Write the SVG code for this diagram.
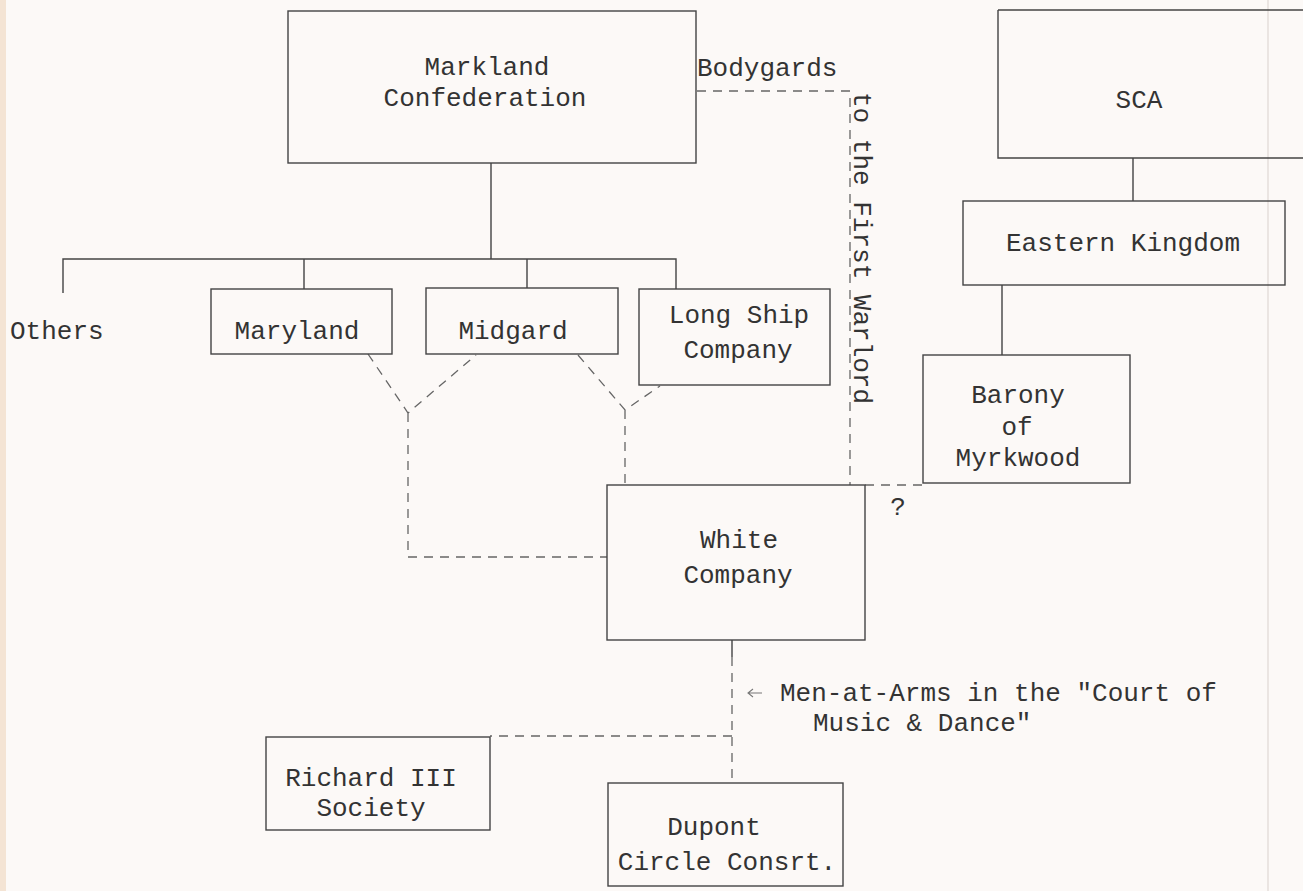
<svg xmlns="http://www.w3.org/2000/svg" width="1303" height="891" viewBox="0 0 1303 891">
<style>
.t{font-family:"Liberation Mono","Courier New",monospace;font-size:26px;fill:#333}
.c{text-anchor:middle}
.box{fill:none;stroke:#444;stroke-width:1.4}
.ln{fill:none;stroke:#444;stroke-width:1.4}
.ds{fill:none;stroke:#666;stroke-width:1.3;stroke-dasharray:9 7}
</style>
<rect width="1303" height="891" fill="#fcf9f7"/>
<rect width="6" height="891" fill="#f4e4d4"/>
<line x1="1268" y1="0" x2="1268" y2="891" stroke="#d9d1cd" stroke-width="1"/>

<g id="connectors">
  <path class="ln" d="M491,163 V259 M63,293 V259 H676 V289 M304,259 V289 M527,259 V288"/>
  <path class="ln" d="M1133,158 V201 M1002,285 V355 M732,640 V657"/>
  <path class="ds" d="M697,91 H850 V485"/>
  <path class="ds" d="M865,485 H923"/>
  <path class="ds" d="M368,354 L408,413 L476,355 M408,413 V557 H607"/>
  <path class="ds" d="M578,355 L625,410 L660,386 M625,410 V485"/>
  <path class="ds" d="M732,657 V783 M732,736 H490"/>
  <path d="M762,693 H748 M753,689 L748,693 L753,697" fill="none" stroke="#777" stroke-width="1.1"/>
</g>

<g id="markland"><rect class="box" x="288" y="11" width="408" height="152"/>
<text class="t c" x="487" y="75">Markland</text><text class="t c" x="485" y="106">Confederation</text></g>
<g id="bodygards-label"><text class="t" x="697" y="76">Bodygards</text></g>
<g id="warlord-label"><text class="t" transform="translate(854,92) rotate(90)">to the First Warlord</text></g>
<g id="others"><text class="t" x="10" y="339">Others</text></g>
<g id="maryland"><rect class="box" x="211" y="289" width="181" height="65"/><text class="t c" x="297" y="339">Maryland</text></g>
<g id="midgard"><rect class="box" x="426" y="288" width="192" height="66"/><text class="t c" x="513" y="339">Midgard</text></g>
<g id="longship"><rect class="box" x="639" y="289" width="191" height="96"/><text class="t c" x="739" y="323">Long Ship</text><text class="t c" x="738" y="358">Company</text></g>
<g id="sca"><path class="box" d="M998,10 H1303 M998,10 V158 H1303"/><text class="t c" x="1139" y="108">SCA</text></g>
<g id="eastern"><rect class="box" x="963" y="201" width="322" height="84"/><text class="t c" x="1123" y="251">Eastern Kingdom</text></g>
<g id="barony"><rect class="box" x="923" y="355" width="207" height="128"/><text class="t c" x="1018" y="403">Barony</text><text class="t c" x="1017" y="435">of</text><text class="t c" x="1018" y="466">Myrkwood</text></g>
<g id="question"><text class="t c" x="898" y="515">?</text></g>
<g id="white"><rect class="box" x="607" y="485" width="258" height="155"/><text class="t c" x="739" y="548">White</text><text class="t c" x="738" y="583">Company</text></g>
<g id="menatarms"><text class="t" x="780" y="701">Men-at-Arms in the "Court of</text><text class="t" x="813" y="731">Music &amp; Dance"</text></g>
<g id="richard"><rect class="box" x="266" y="737" width="224" height="93"/><text class="t c" x="371" y="786">Richard III</text><text class="t c" x="371" y="816">Society</text></g>
<g id="dupont"><rect class="box" x="608" y="783" width="235" height="103"/><text class="t c" x="714" y="835">Dupont</text><text class="t c" x="727" y="870">Circle Consrt.</text></g>
</svg>
